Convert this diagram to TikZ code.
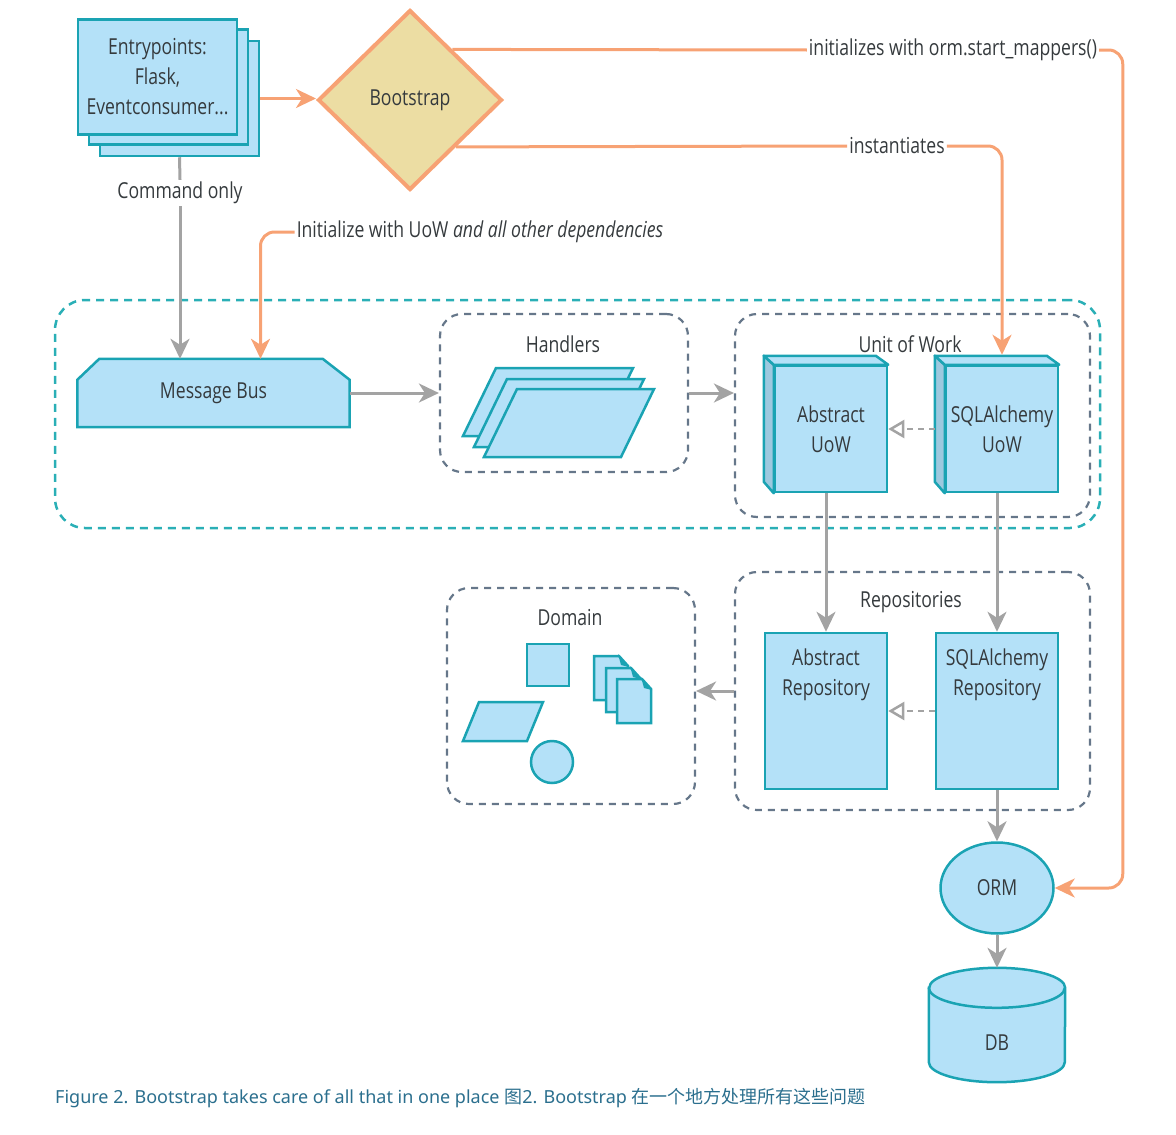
\documentclass[tikz,border=0pt]{standalone}
\usepackage{fontspec}
\setmainfont{Open Sans}[FakeStretch=0.8]
\newfontfamily\capfont{Noto Sans}
\newfontfamily\cjkfont{Noto Sans CJK SC}
\usetikzlibrary{arrows.meta, positioning, shapes.geometric, calc}

\definecolor{boxfill}{HTML}{B4E1F8}
\definecolor{boxline}{HTML}{1AA3B3}
\definecolor{sidefill}{HTML}{9DC9DF}
\definecolor{arrowgray}{HTML}{A3A3A3}
\definecolor{arroworange}{HTML}{F7A274}
\definecolor{bootfill}{HTML}{ECDDA3}
\definecolor{groupline}{HTML}{66778A}
\definecolor{layerline}{HTML}{2AAFB6}
\definecolor{textgray}{HTML}{353A3D}
\definecolor{captioncol}{HTML}{2B6F8E}

\tikzset{
  txt/.style={text=textgray, font=\fontsize{22}{30}\selectfont, align=center, inner sep=2pt},
  bluebox/.style={draw=boxline, fill=boxfill, line width=2.5pt},
  group/.style={draw=groupline, dash pattern=on 7pt off 6pt, line width=2.2pt, rounded corners=22pt},
  flow/.style={draw=arrowgray, line width=3pt, -{Stealth[length=20pt,width=19pt,inset=6pt]}},
  grayline/.style={draw=arrowgray, line width=3pt},
  orangeflow/.style={draw=arroworange, line width=3pt, rounded corners=14pt, -{Stealth[length=20pt,width=19pt,inset=6pt]}},
  orangeline/.style={draw=arroworange, line width=3pt, rounded corners=14pt},
  implements/.style={draw=arrowgray, line width=2.5pt, dash pattern=on 6pt off 5pt, -{Triangle[open,length=16pt,width=18pt]}}
}

\begin{document}
\begin{tikzpicture}[x=1pt, y=-1pt]
  \useasboundingbox (0,0) rectangle (1176,1135);

  % layer and groups
  \node[draw=layerline, dash pattern=on 8pt off 6pt, line width=2.5pt, rounded corners=30pt, minimum width=1045, minimum height=228] (layer) at (577.5,414) {};
  \node[group, minimum width=248, minimum height=158] (handlers) at (564,393) {};
  \node[group, minimum width=355, minimum height=203] (uowgroup) at (912.5,415.5) {};
  \node[group, minimum width=355, minimum height=238] (repos) at (912.5,691) {};
  \node[group, minimum width=248, minimum height=216] (domain) at (571,696) {};
  \node[txt] (handlerslabel) at (563,344) {Handlers};
  \node[txt] (uowlabel) at (910,344) {Unit of Work};
  \node[txt] (reposlabel) at (911,602) {Repositories};
  \node[txt] (domainlabel) at (570,618) {Domain};

  % entrypoints
  \node[bluebox, minimum width=159, minimum height=115] (entry3) at (179.5,98.5) {};
  \node[bluebox, minimum width=159, minimum height=115] (entry2) at (168.5,87) {};
  \node[bluebox, minimum width=159, minimum height=115, txt] (entry) at (157.5,77) {Entrypoints:\\Flask,\\Eventconsumer...};

  % bootstrap
  \node[diamond, draw=arroworange, fill=bootfill, line width=4pt, minimum width=184, minimum height=180, txt] (boot) at (410,100) {Bootstrap};

  % message bus
  \node[minimum width=272, minimum height=68, inner sep=0pt] (bus) at (213.5,393) {};
  \draw[bluebox] (bus.south west) -- ([yshift=-21pt]bus.north west) -- ([xshift=22pt]bus.north west)
    -- ([xshift=-27pt]bus.north east) -- ([yshift=-21pt]bus.north east) -- (bus.south east) -- cycle;
  \node[txt] (buslabel) at (bus.center) {Message Bus};

  % handler sheets
  \foreach \d in {0,11,21}
    \draw[bluebox] (463+\d,436+\d) -- ++(137,0) -- ++(33,-68) -- ++(-137,0) -- cycle;

  % unit of work
  \node[bluebox, minimum width=112, minimum height=126, txt] (absuow) at (831,429) {Abstract\\UoW};
  \node[bluebox, minimum width=112, minimum height=126, txt, inner sep=0pt] (sqluow) at (1002,429) {SQLAlchemy\\UoW};
  \foreach \n in {absuow, sqluow} {
    \draw[bluebox, fill=sidefill, line join=round] (\n.north west) -- ++(-10,-9) -- ++(0,126) -- (\n.south west) -- cycle;
    \draw[bluebox, line join=round] (\n.north west) -- ++(-10,-9) -- ++(112,0) -- (\n.north east) -- cycle;
  }

  % repositories
  \node[bluebox, minimum width=122, minimum height=156,
    label={[txt, anchor=north, yshift=-15pt]north:Abstract\\Repository}] (absrepo) at (826,711) {};
  \node[bluebox, minimum width=122, minimum height=156,
    label={[txt, anchor=north, yshift=-15pt]north:SQLAlchemy\\Repository}] (sqlrepo) at (997,711) {};

  % domain objects
  \node[bluebox, minimum size=42] (entity) at (548,665) {};
  \draw[bluebox] (463,741) -- (527,741) -- (543,702) -- (479,702) -- cycle;
  \node[bluebox, circle, minimum size=42] (valueobj) at (552,762) {};
  \foreach \x/\y in {594/656, 606/668, 617/679} {
    \draw[bluebox] (\x,\y) -- ++(25,0) -- ++(9,10) -- ++(0,34) -- ++(-34,0) -- cycle;
    \fill[boxline] (\x+24,\y-2) -- (\x+35,\y+11) -- (\x+27,\y+9) -- cycle;
  }

  % orm and db
  \node[bluebox, ellipse, minimum width=113, minimum height=91, txt] (orm) at (997,888) {ORM};
  \node[minimum width=136, minimum height=114, inner sep=0pt] (db) at (997,1025) {};
  \draw[bluebox] ([yshift=-20pt]db.north west) -- ([yshift=20pt]db.south west)
    arc[start angle=180, end angle=360, x radius=68pt, y radius=20pt]
    -- ([yshift=-20pt]db.north east)
    arc[start angle=0, end angle=180, x radius=68pt, y radius=20pt] -- cycle;
  \draw[bluebox, fill=none] ([yshift=-20pt]db.north west) arc[start angle=180, end angle=360, x radius=68pt, y radius=20pt];
  \node[txt] (dblabel) at ([yshift=-18pt]db.center) {DB};

  % gray flow
  \node[txt] (cmdlabel) at (180,193) {Command only};
  \draw[grayline] (entry3.south) -- (cmdlabel.north);
  \draw[flow] (cmdlabel.south) -- (cmdlabel.south |- bus.north);
  \draw[flow] (bus.east) -- (handlers.west);
  \draw[flow] (handlers.east) -- (handlers.east -| uowgroup.west);
  \draw[flow] (absuow.south -| absrepo.north) -- (absrepo.north);
  \draw[flow] (sqluow.south -| sqlrepo.north) -- (sqlrepo.north);
  \draw[flow] (repos.west) -- (repos.west -| domain.east);
  \draw[flow] (sqlrepo.south) -- (orm.north);
  \draw[flow] (orm.south) -- (db.north);
  \draw[implements] ([xshift=-10pt]sqluow.west) -- (absuow.east);
  \draw[implements] (sqlrepo.west) -- (absrepo.east);

  % orange wiring from bootstrap
  \draw[orangeflow] (entry3.east) -- (entry3.east -| boot.west);
  \node[txt, fill=white] (mapslabel) at (953,50) {initializes with orm.start\_mappers()};
  \node[txt, fill=white] (instlabel) at (897,146) {instantiates};
  \node[txt] (deplabel) at (480,232) {Initialize with UoW \textit{and all other dependencies}};
  \draw[orangeline] ($(boot.north)!0.45!(boot.east)$) -- (mapslabel.west);
  \draw[orangeflow] (mapslabel.east) -| ([xshift=68pt]orm.east) -- (orm.east);
  \draw[orangeline] ($(boot.east)!0.51!(boot.south)$) -- (instlabel.west);
  \draw[orangeflow] (instlabel.east) -| ([yshift=10pt]sqluow.north);
  \draw[orangeline] ($(boot.west)!0.51!(boot.south)$) -- ($(boot.west)!0.51!(boot.south)$ |- deplabel.north);
  \draw[orangeflow] (deplabel.west) -| ([xshift=47pt]bus.north);

  % caption
  \node[anchor=west, text=captioncol, inner sep=0pt, font=\capfont\fontsize{18}{21}\selectfont] (caption) at (55,1098)
    {Figure 2. Bootstrap takes care of all that in one place {\cjkfont 图}2. Bootstrap {\cjkfont 在一个地方处理所有这些问题}};
\end{tikzpicture}
\end{document}
